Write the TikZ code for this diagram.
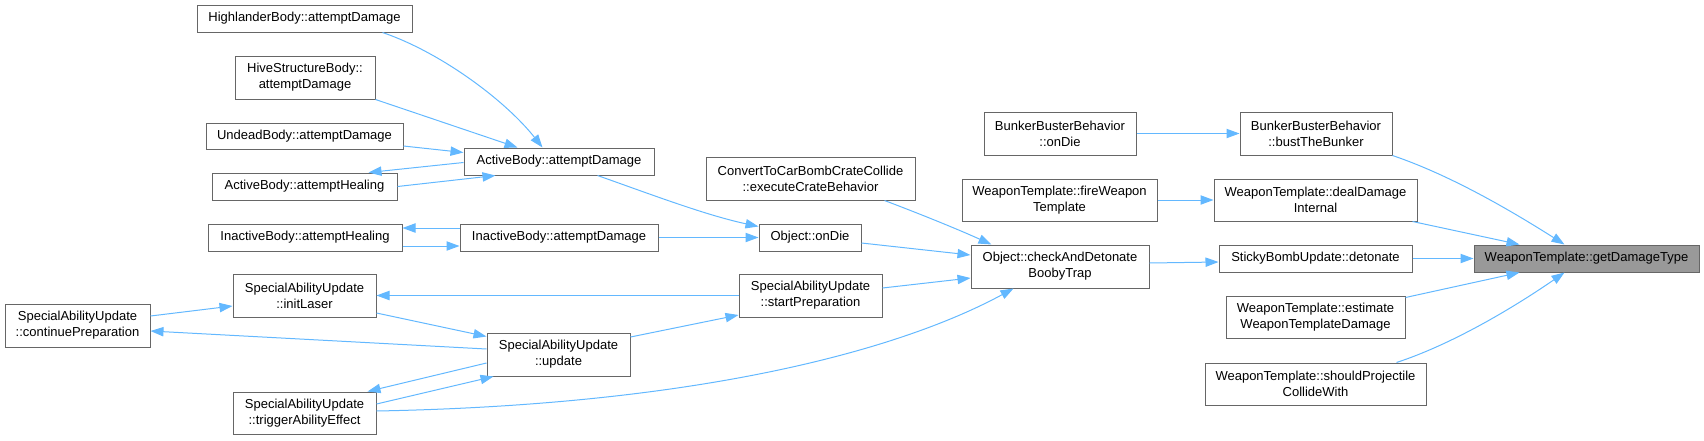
\documentclass[tikz,border=0pt]{standalone}
\usepackage{fontspec}
\setmainfont{Liberation Sans}
\usetikzlibrary{arrows.meta,calc}
\definecolor{edgeblue}{HTML}{63B8FF}
\definecolor{nodeborder}{HTML}{666666}
\definecolor{hifill}{HTML}{999999}
\tikzset{
  nd/.style={draw=nodeborder, line width=0.75pt, fill=white, inner sep=0pt, align=center,
    font=\fontsize{9.75pt}{12pt}\selectfont, text=black},
  bx/.style 2 args={minimum width=#1*0.75pt, minimum height=#2*0.75pt},
  edge/.style={draw=edgeblue, line width=0.75pt, -{Triangle[length=9.75pt,width=7pt]}}
}
\begin{document}
\begin{tikzpicture}[x=0.75pt,y=-0.75pt]
\useasboundingbox (0,0) rectangle (1704,440);
% nodes
\node[nd,bx={215}{27}] (hl) at (304.5,18.5) {HighlanderBody::attemptDamage};
\node[nd,bx={140}{43}] (hv) at (305,77.5) {HiveStructureBody::\\attemptDamage};
\node[nd,bx={197}{26}] (ud) at (304.5,136) {UndeadBody::attemptDamage};
\node[nd,bx={185}{27}] (ah) at (304.5,186.5) {ActiveBody::attemptHealing};
\node[nd,bx={190}{27}] (ad) at (559,161.5) {ActiveBody::attemptDamage};
\node[nd,bx={194}{27}] (ih) at (305,237.5) {InactiveBody::attemptHealing};
\node[nd,bx={198}{27}] (id) at (559,237.5) {InactiveBody::attemptDamage};
\node[nd,bx={143}{43}] (il) at (304.5,295.5) {SpecialAbilityUpdate\\::initLaser};
\node[nd,bx={145}{43}] (cp) at (77.5,325.5) {SpecialAbilityUpdate\\::continuePreparation};
\node[nd,bx={143}{43}] (up) at (558.5,354.5) {SpecialAbilityUpdate\\::update};
\node[nd,bx={143}{42}] (tr) at (304.5,413) {SpecialAbilityUpdate\\::triggerAbilityEffect};
\node[nd,bx={209}{43}] (cc) at (810.5,178.5) {ConvertToCarBombCrateCollide\\::executeCrateBehavior};
\node[nd,bx={102}{27}] (od) at (810,237.5) {Object::onDie};
\node[nd,bx={143}{43}] (sp) at (810.5,295.5) {SpecialAbilityUpdate\\::startPreparation};
\node[nd,bx={178}{43}] (cb) at (1060,266.5) {Object::checkAndDetonate\\BoobyTrap};
\node[nd,bx={152}{43}] (bo) at (1060,133.5) {BunkerBusterBehavior\\::onDie};
\node[nd,bx={195}{42}] (fw) at (1059.5,200) {WeaponTemplate::fireWeapon\\Template};
\node[nd,bx={152}{43}] (bb) at (1316,133.5) {BunkerBusterBehavior\\::bustTheBunker};
\node[nd,bx={203}{42}] (dd) at (1315.5,200) {WeaponTemplate::dealDamage\\Internal};
\node[nd,bx={193}{27}] (sb) at (1315.5,258.5) {StickyBombUpdate::detonate};
\node[nd,bx={179}{42}] (es) at (1315.5,317) {WeaponTemplate::estimate\\WeaponTemplateDamage};
\node[nd,bx={221}{42}] (sh) at (1315.5,384) {WeaponTemplate::shouldProjectile\\CollideWith};
\node[nd,bx={225}{27},fill=hifill] (gd) at (1586.5,258.5) {WeaponTemplate::getDamageType};
% edges
\draw[edge] ($(hl.south east)+(-30,0)$) .. controls (440,52) and (505,100) .. ($(ad.north west)+(79,0)$);
\draw[edge] (hv.south east) -- ($(ad.north west)+(54,0)$);
\draw[edge] ($(ud.east)+(0,10)$) -- ($(ad.west)+(0,-9)$);
\draw[edge] ($(ad.west)+(0,1)$) -- ($(ah.north east)+(-29,0)$);
\draw[edge] (ah.east) -- ($(ad.south west)+(32,0)$);
\draw[edge] ($(ad.south east)+(-57,0)$) .. controls (650,194) and (705,215) .. ($(od.west)+(0,-11)$);
\draw[edge] ($(id.west)+(0,-9.5)$) -- ($(ih.east)+(0,-9.5)$);
\draw[edge] ($(ih.east)+(0,8.5)$) -- ($(id.west)+(0,8.5)$);
\draw[edge] (id.east) -- (od.west);
\draw[edge] (sp.west) -- (il.east);
\draw[edge] ($(il.east)+(0,17.5)$) -- ($(up.north west)+(0,4)$);
\draw[edge] ($(cp.east)+(0,-9.5)$) -- ($(il.west)+(0,10.5)$);
\draw[edge] ($(up.west)+(0,-5.5)$) -- ($(cp.east)+(0,5.5)$);
\draw[edge] ($(up.west)+(0,8.5)$) -- ($(tr.north east)+(-9,0)$);
\draw[edge] ($(tr.east)+(0,-9)$) -- ($(up.south west)+(7,0)$);
\draw[edge] ($(tr.east)+(0,-2)$) .. controls (700,405) and (900,350) .. ($(cb.south west)+(43,0)$);
\draw[edge] ($(up.east)+(0,-17.5)$) -- ($(sp.west)+(0,19.5)$);
\draw[edge] ($(sp.east)+(0,-7.5)$) -- ($(cb.west)+(0,11.5)$);
\draw[edge] ($(od.east)+(0,5.5)$) -- ($(cb.west)+(0,-11.5)$);
\draw[edge] ($(cc.south east)+(-31,0)$) .. controls (915,212) and (955,228) .. ($(cb.north west)+(21,0)$);
\draw[edge] ($(cb.east)+(0,-3.5)$) -- ($(sb.west)+(0,3.5)$);
\draw[edge] (bo.east) -- (bb.west);
\draw[edge] (fw.east) -- (dd.west);
\draw[edge] (bb.south east) .. controls (1450,175) and (1510,210) .. ($(gd.north west)+(91,0)$);
\draw[edge] ($(dd.south east)+(-5,0)$) -- ($(gd.north west)+(46,0)$);
\draw[edge] (sb.east) -- (gd.west);
\draw[edge] ($(es.north east)+(0,2)$) -- ($(gd.south west)+(46,0)$);
\draw[edge] ($(sh.north east)+(-30,0)$) .. controls (1450,345) and (1510,310) .. ($(gd.south west)+(91,0)$);
\end{tikzpicture}
\end{document}
